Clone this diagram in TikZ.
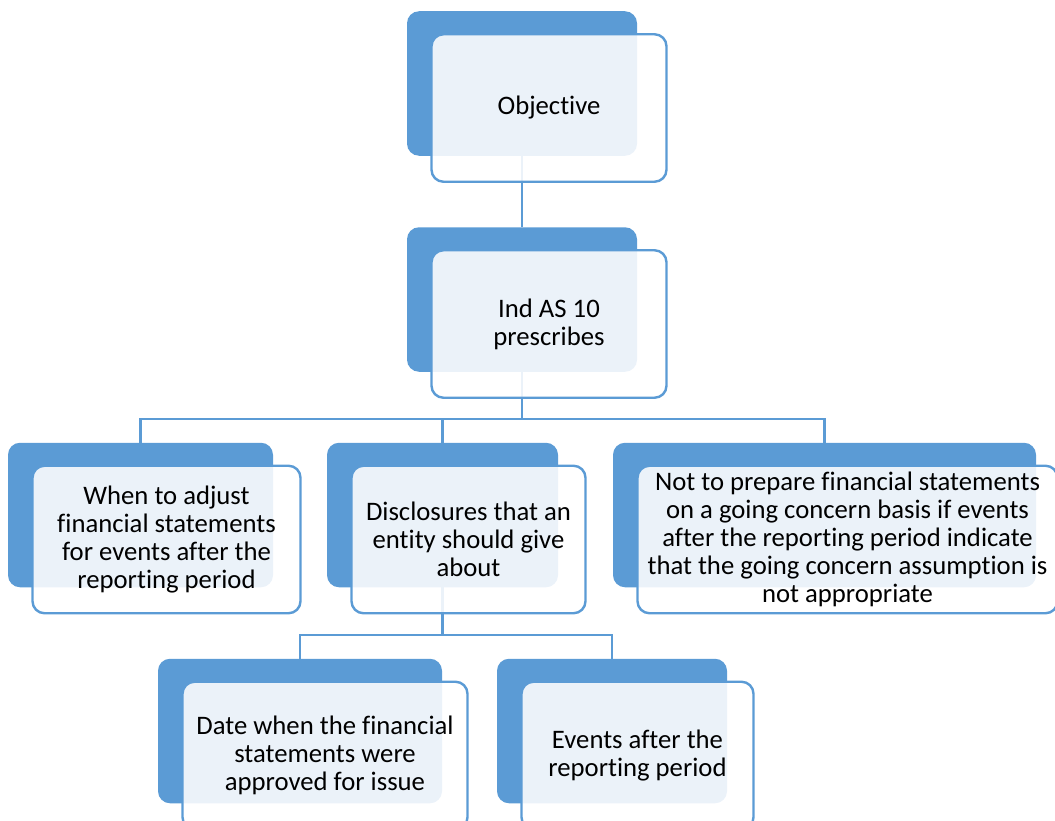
\documentclass[tikz,border=0pt]{standalone}
\usepackage{fontspec}
\setmainfont{Carlito}[Ligatures=NoCommon]
\usepackage{tikz}
\definecolor{accent}{RGB}{91, 155, 213}

\begin{document}
\begin{tikzpicture}[x=1bp, y=-1bp, thick,
  back/.style={fill=accent, rounded corners=12bp, inner sep=0pt, outer sep=0pt,
    minimum width=#1*1bp, minimum height=144.5bp},
  front/.style={draw=accent, line width=2.4bp, fill=white, fill opacity=0.88, text opacity=1,
    rounded corners=12bp, inner sep=0pt, outer sep=0pt, anchor=north west, align=center,
    minimum width=#1*1bp, minimum height=147.5bp, font=\fontsize{26.8}{28}\selectfont},
  link/.style={draw=accent, line width=2.4bp}]
  \useasboundingbox (0, 0) rectangle (1055, 821);
  \def\boxlist{obj/522/83.5/230/235/{Objective},
    ind/522/299.5/230/235/{Ind AS 10\\prescribes},
    adj/140.5/515/265/268/{When to adjust\\financial statements\\for events after the\\reporting period},
    dis/442.5/515/231/234/{Disclosures that an\\entity should give\\about},
    goc/824.5/515/423/420/{Not to prepare financial statements\\on a going concern basis if events\\after the reporting period indicate\\that the going concern assumption is\\not appropriate},
    dat/300/731/284/285/{Date when the financial\\statements were\\approved for issue},
    evt/612/731/230/232/{Events after the\\reporting period}}
  % back boxes
  \foreach \n/\cx/\cy/\bw/\fw/\txt in \boxlist
    \node[back=\bw] (\n-b) at (\cx, \cy) {};
  % connectors
  \coordinate (bus1) at (522, 419);
  \coordinate (bus2) at (442.5, 635);
  \draw[link] (obj-b.south) -- (ind-b.north);
  \draw[link] (ind-b.south) -- (bus1);
  \foreach \c in {adj, dis, goc}
    \draw[link] (bus1) -| (\c-b.north);
  \draw[link] (dis-b.south) -- (bus2);
  \foreach \c in {dat, evt}
    \draw[link] (bus2) -| (\c-b.north);
  % front boxes
  \foreach \n/\cx/\cy/\bw/\fw/\txt in \boxlist
    \node[front=\fw] (\n) at ([shift={(24.5, 23)}]\n-b.north west) {\txt};
\end{tikzpicture}
\end{document}
